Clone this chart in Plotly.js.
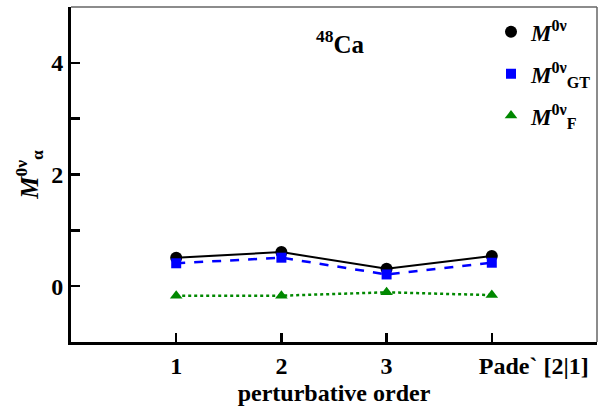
<!DOCTYPE html>
<html>
<head>
<meta charset="utf-8">
<script src="https://cdn.plot.ly/plotly-3.0.1.min.js"></script>
<style>html,body{margin:0;padding:0;background:#fff;}#chart{width:599px;height:406px;}</style>
</head>
<body>
<div id="chart"></div>
<script>
const orders = [1, 2, 3, 4];
const tickLabels = ["1", "2", "3", "\u00A0".repeat(14) + "Pade` [2|1]"];
const mTotal = [0.51, 0.61, 0.31, 0.54];
const mGT = [0.41, 0.51, 0.21, 0.42];
const mF = [-0.17, -0.17, -0.11, -0.16];
const seriesNames = ["<i>M</i><sup>0ν</sup>", "<i>M</i><sup>0ν</sup><sub>GT</sub>", "<i>M</i><sup>0ν</sup><sub>F</sub>"];

const font = {family: "Liberation Serif, Times New Roman, serif", color: "#000"};
const traces = [
  {x: orders, y: mTotal, mode: "lines", line: {color: "#000", width: 2}, showlegend: false, hoverinfo: "skip"},
  {x: orders, y: mGT, mode: "lines", line: {color: "#0000ff", width: 2.5, dash: "dash"}, showlegend: false, hoverinfo: "skip"},
  {x: orders, y: mF, mode: "lines", line: {color: "#008800", width: 2.5, dash: "dot"}, showlegend: false, hoverinfo: "skip"},
  {x: orders, y: mTotal, mode: "markers", name: seriesNames[0], legendgroup: "a", marker: {symbol: "circle", size: 12, color: "#000"}},
  {x: orders, y: mGT, mode: "markers", name: seriesNames[1], legendgroup: "b", marker: {symbol: "square", size: 10, color: "#0000ff"}},
  {x: orders, y: mF, mode: "markers", name: seriesNames[2], legendgroup: "c", marker: {symbol: "triangle-up", size: 11, color: "#008800"}}
];

const layout = {
  width: 599, height: 406,
  margin: {l: 71, r: 2, t: 7, b: 64, autoexpand: false},
  paper_bgcolor: "#fff", plot_bgcolor: "#fff",
  font: Object.assign({size: 24}, font),
  showlegend: true,
  legend: {x: 1, xanchor: "right", y: 0.99, yanchor: "top", bgcolor: "rgba(0,0,0,0)",
    font: Object.assign({size: 23, weight: "bold"}, font), tracegroupgap: 9, itemwidth: 30},
  xaxis: {
    range: [0, 5], tickvals: orders, ticktext: tickLabels, tickangle: 0, automargin: false,
    ticks: "inside", ticklen: 9, tickwidth: 2.5, tickcolor: "#000",
    showline: true, linecolor: "#000", linewidth: 3, showgrid: false, zeroline: false,
    tickfont: Object.assign({size: 24, weight: "bold"}, font),
    title: {text: "<b>perturbative order</b>", font: Object.assign({size: 24}, font), standoff: 8}
  },
  yaxis: {
    range: [-1, 5], dtick: 2, tick0: 0, automargin: false,
    ticks: "inside", ticklen: 9, tickwidth: 2.5, tickcolor: "#000",
    minor: {dtick: 1, ticks: "inside", ticklen: 9, tickwidth: 2.5, tickcolor: "#000", showgrid: false},
    showline: true, linecolor: "#000", linewidth: 3, showgrid: false, zeroline: false,
    tickfont: Object.assign({size: 24, weight: "bold"}, font),
    title: {text: "<b><i>M</i><sup>0ν</sup><sub>α</sub></b>", font: Object.assign({size: 25}, font), standoff: 6}
  },
  shapes: [
    {type: "line", xref: "paper", yref: "paper", x0: 0, x1: 1, y0: 1, y1: 1, line: {color: "#666", width: 1.5}},
    {type: "line", xref: "paper", yref: "paper", x0: 1, x1: 1, y0: 0, y1: 1, line: {color: "#666", width: 1.5}}
  ],
  annotations: [
    {xref: "paper", yref: "paper", x: 0.512, y: 0.895, xanchor: "center", yanchor: "middle", showarrow: false,
      text: "<b><sup>48</sup>Ca</b>", font: Object.assign({size: 25}, font)}
  ]
};
Plotly.newPlot("chart", traces, layout, {displayModeBar: false, staticPlot: true});
</script>
</body>
</html>
